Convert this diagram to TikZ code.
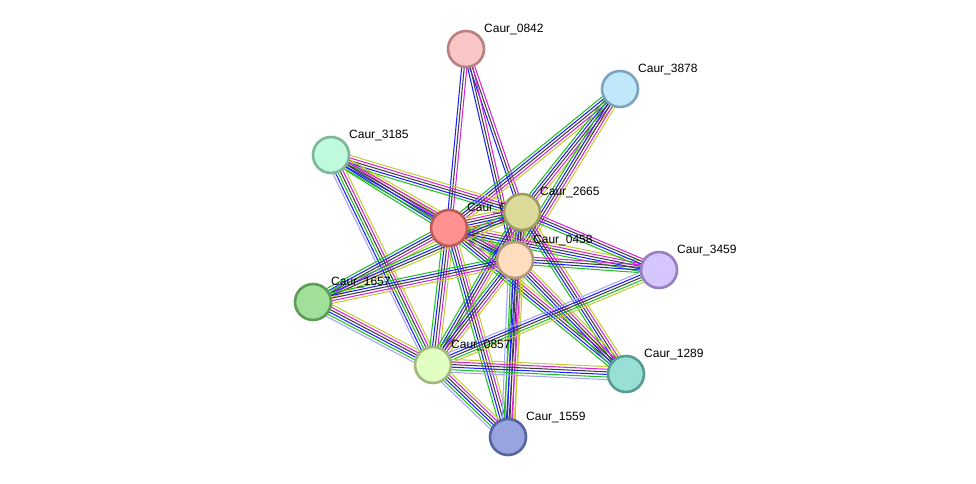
\documentclass[tikz,border=0pt]{standalone}
\usepackage{fontspec}
\setmainfont{Liberation Sans}
\usetikzlibrary{calc}
\pgfdeclarelayer{bg}
\pgfsetlayers{bg,main}
\definecolor{cyel}{RGB}{196,206,50}
\definecolor{cgrn}{RGB}{34,192,34}
\definecolor{cblu}{RGB}{30,30,255}
\definecolor{cblk}{RGB}{64,64,64}
\definecolor{cmag}{RGB}{214,36,214}
\definecolor{clpu}{RGB}{164,164,255}
\definecolor{cred}{RGB}{255,40,40}
\tikzset{
  edge/.style={line width=1.05pt},
  prot/.style={circle, minimum size=36pt, inner sep=0pt, line width=2.6pt},
  lbl/.style={anchor=base west, inner sep=0pt, font=\fontsize{12}{14}\selectfont, text=black},
}
\newcommand\bundle[3]{%
  \gdef\bundleN{0}%
  \foreach \c in {#3}{\xdef\bundleN{\the\numexpr\bundleN+1\relax}}%
  \foreach \c [count=\i] in {#3}{%
    \pgfmathsetmacro\off{(\i-(\bundleN+1)/2)*2.6}%
    \draw[edge,\c] ($(#1)!\off pt!90:(#2)$) -- ($(#2)!\off pt!-90:(#1)$);
  }}
\newcommand\prot[6]{%
  \node[prot, fill={rgb,255:#4}, draw={rgb,255:#5}] (#1) at (#2,#3) {};
  \node[lbl] (#1l) at ($(#1)+(18,-16.5)$) {#6};}
\begin{document}
\begin{tikzpicture}[x=1pt,y=-1pt]
\useasboundingbox (0,0) rectangle (976,483);
\prot{E}{449}{228}{red,255;green,145;blue,145}{red,190;green,90;blue,90}{Caur\_0}
\prot{A}{466}{49}{red,248;green,198;blue,198}{red,184;green,128;blue,128}{Caur\_0842}
\prot{B}{620}{89}{red,192;green,232;blue,250}{red,122;green,164;blue,192}{Caur\_3878}
\prot{C}{331}{155}{red,192;green,250;blue,220}{red,124;green,184;blue,150}{Caur\_3185}
\prot{D}{522}{212}{red,220;green,218;blue,152}{red,156;green,156;blue,96}{Caur\_2665}
\prot{F}{515}{260}{red,255;green,222;blue,192}{red,180;green,152;blue,124}{Caur\_0458}
\prot{G}{659}{270}{red,214;green,198;blue,255}{red,150;green,128;blue,192}{Caur\_3459}
\prot{H}{313}{302}{red,160;green,224;blue,152}{red,92;green,156;blue,86}{Caur\_1657}
\prot{I}{433}{365}{red,224;green,255;blue,192}{red,160;green,184;blue,128}{Caur\_0857}
\prot{J}{626}{374}{red,152;green,224;blue,214}{red,86;green,156;blue,148}{Caur\_1289}
\prot{K}{508}{437}{red,152;green,164;blue,224}{red,86;green,100;blue,160}{Caur\_1559}
\begin{pgfonlayer}{bg}
\bundle{A}{E}{cblu,cblk,cmag}
\bundle{A}{D}{cblu,cblk,cmag}
\bundle{A}{F}{cblu,cblk,cmag}
\bundle{B}{E}{cgrn,cblu,cblk,cmag,cyel}
\bundle{B}{D}{cgrn,cblu,cblk,cmag,cyel}
\bundle{B}{F}{cgrn,cblu,cblk,cmag,cyel}
\bundle{C}{E}{cgrn,cblu,cblk,cmag,cyel}
\bundle{C}{D}{cgrn,cblu,cblk,cmag,cyel}
\bundle{C}{F}{cgrn,cblu,cblk,cmag,cyel}
\bundle{C}{I}{clpu,cblu,cgrn,cblk,cmag,cyel}
\bundle{E}{D}{cgrn,cred,cblu,cblk,cmag,cyel}
\bundle{E}{F}{cgrn,cblu,cblk,cmag,cyel}
\bundle{E}{G}{cgrn,cblu,cblk,cmag,cyel}
\bundle{E}{H}{cgrn,cblu,cblk,cmag,cyel}
\bundle{E}{I}{cgrn,cblu,cblk,cmag,cyel}
\bundle{E}{J}{cgrn,cblu,cblk,cmag,cyel}
\bundle{E}{K}{cgrn,cblu,cblk,cmag,cyel}
\bundle{D}{F}{cgrn,cblu,cblk,cmag,cyel}
\bundle{D}{G}{cgrn,cblu,cblk,cmag}
\bundle{D}{H}{cgrn,cblu,cblk,cyel}
\bundle{D}{I}{cgrn,cblu,cblk,cmag,cyel}
\bundle{D}{J}{cgrn,cblu,cblk,cmag,cyel}
\bundle{D}{K}{cgrn,cblu,cblk,cmag,cyel}
\bundle{F}{G}{cgrn,cblu,cblk,cmag}
\bundle{F}{H}{cgrn,cblu,cblk,cmag,cyel}
\bundle{F}{I}{cgrn,cblu,cblk,cmag,cyel}
\bundle{F}{J}{cgrn,cblu,cblk,cmag,cyel}
\bundle{F}{K}{clpu,cgrn,cblu,cblk,cmag,cyel}
\bundle{G}{I}{clpu,cblu,cblk,cgrn,cyel}
\bundle{H}{I}{clpu,cgrn,cblu,cblk,cmag,cyel}
\bundle{I}{J}{clpu,cgrn,cblu,cblk,cmag,cyel}
\bundle{I}{K}{clpu,cgrn,cblu,cblk,cmag,cyel}
\end{pgfonlayer}
\end{tikzpicture}
\end{document}
